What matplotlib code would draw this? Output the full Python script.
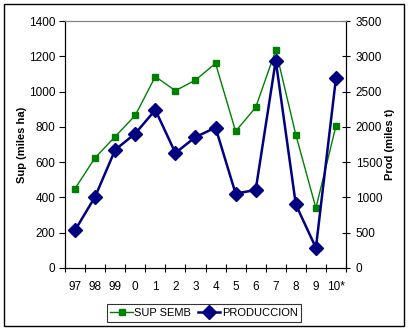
import matplotlib.pyplot as plt
from matplotlib.patches import Rectangle

plt.rcParams['font.family'] = ['Liberation Sans', 'DejaVu Sans']

years = ['97', '98', '99', '0', '1', '2', '3', '4', '5', '6', '7', '8', '9', '10*']
sup_semb = [450, 625, 745, 865, 1085, 1005, 1065, 1160, 775, 910, 1235, 755, 340, 805]
produccion = [535, 1010, 1675, 1905, 2240, 1630, 1855, 1990, 1055, 1105, 2940, 900, 285, 2690]

green = '#008000'
navy = '#000080'
x = list(range(len(years)))

fig = plt.figure(figsize=(4.12, 3.32), dpi=100)
fig.patches.append(Rectangle((4 / 412, 1 - 326 / 332), 400 / 412, 322 / 332,
                             transform=fig.transFigure, fill=False,
                             edgecolor='black', linewidth=1.0))

ax = fig.add_axes([65 / 412, 1 - 268 / 332, 281 / 412, 247 / 332])
ax2 = ax.twinx()

l1, = ax.plot(x, sup_semb, color=green, linewidth=1.0, marker='s',
              markersize=4, label='SUP SEMB')
l2, = ax2.plot(x, produccion, color=navy, linewidth=1.8, marker='D',
               markersize=7, label='PRODUCCION')

ax.set_xlim(-0.5, len(years) - 0.5)
ax.set_ylim(0, 1400)
ax2.set_ylim(0, 3500)
ax.set_yticks(range(0, 1401, 200))
ax2.set_yticks(range(0, 3501, 500))

# labels sit between the category tick marks
ax.set_xticks(x)
ax.set_xticklabels(years)
ax.set_xticks([i - 0.5 for i in range(len(years) + 1)], minor=True)
ax.tick_params(axis='x', which='major', length=0, pad=9, labelsize=8.5)
ax.tick_params(axis='x', which='minor', length=6, direction='inout', width=0.8)
ax.tick_params(axis='y', length=4, width=0.8, labelsize=8.5, pad=3)
ax2.tick_params(axis='y', length=6, width=0.8, direction='inout', labelsize=8.5, pad=4)
ax2.tick_params(axis='x', which='both', length=0)

for a in (ax, ax2):
    a.spines['top'].set_color('#808080')
    a.spines['top'].set_linewidth(0.8)
    for s in ('left', 'right', 'bottom'):
        a.spines[s].set_linewidth(0.8)

ax.set_ylabel('Sup (miles ha)', fontsize=8, fontweight='bold', labelpad=1)
ax2.set_ylabel('Prod (miles t)', fontsize=8, fontweight='bold', labelpad=2)

leg = fig.legend([l1, l2], ['SUP SEMB', 'PRODUCCION'], loc='center',
                 bbox_to_anchor=(204 / 412, 1 - 313 / 332), ncol=2,
                 fontsize=8, frameon=True, fancybox=False, edgecolor='black',
                 handlelength=2.0, handletextpad=0.15, columnspacing=0.6,
                 borderpad=0.35)
leg.get_frame().set_linewidth(0.8)

fig.savefig('out.png', dpi=100)
